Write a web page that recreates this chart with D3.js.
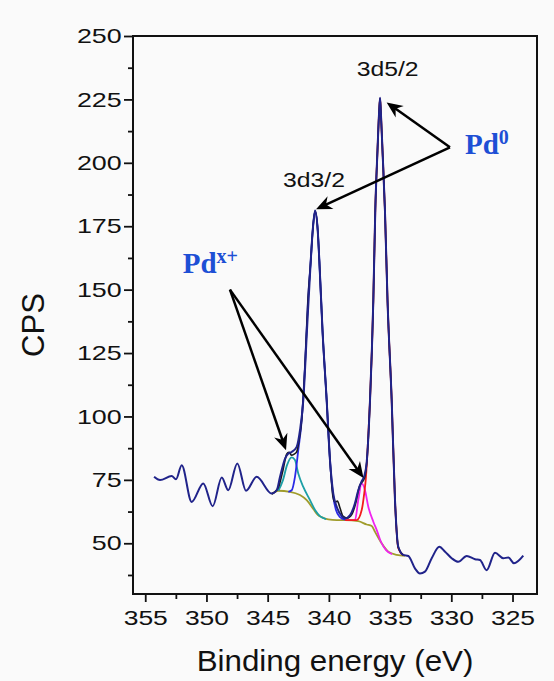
<!DOCTYPE html>
<html>
<head>
<meta charset="utf-8">
<script src="https://cdn.jsdelivr.net/npm/d3@7"></script>
<style>
    body { margin: 0; background: #fafafa; }
    svg { display: block; }
</style>
</head>
<body>
<div id="chart"></div>
<script>
// raw spectrum [binding energy (eV), CPS]
const rawSpectrum = [
    [354.28, 76.2], [353.79, 74.9], [352.84, 76.5], [352.49, 75.2], [352.02, 80.8],
    [351.21, 66.3], [350.26, 73.6], [349.49, 64.6], [348.75, 75.9], [348.22, 70.9],
    [347.48, 81.5], [346.77, 70.7], [345.90, 76.2], [344.67, 69.6], [344.26, 70.9],
    [343.99, 76.2], [343.58, 83.4], [343.31, 85.4], [343.04, 86.0], [342.63, 88.0],
    [342.36, 94.6], [342.09, 106.4], [341.79, 133.9], [341.48, 161.5], [341.32, 173.3],
    [341.13, 181.2], [340.91, 173.3], [340.78, 161.5], [340.52, 133.9], [340.18, 106.4],
    [339.91, 82.8], [339.64, 69.6], [339.36, 64.4], [338.95, 60.7], [338.68, 59.8],
    [338.27, 61.1], [337.87, 65.8], [337.60, 70.9], [337.32, 74.5], [337.11, 76.5],
    [336.91, 82.0], [336.64, 106.4], [336.37, 145.7], [336.21, 181.2], [336.03, 204.8],
    [335.89, 220.6], [335.82, 225.7], [335.76, 220.6], [335.62, 204.8], [335.42, 181.2],
    [335.21, 145.7], [334.87, 106.4], [334.60, 67.0], [334.33, 48.6], [333.92, 45.4],
    [333.51, 45.0], [332.97, 40.1], [332.56, 38.1], [332.15, 38.8], [331.60, 44.1],
    [330.98, 48.6], [330.51, 46.7], [329.97, 44.1], [329.43, 42.7], [328.74, 45.0],
    [328.06, 43.7], [327.66, 43.4], [327.11, 39.4], [326.43, 46.3], [325.75, 44.1],
    [325.34, 44.4], [324.88, 42.1], [324.12, 45.1]
];

// fitted envelope
const fitEnvelope = [
    [344.67, 69.4], [344.15, 71.7], [343.75, 78.8], [343.45, 85.1], [343.26, 85.9],
    [343.04, 84.7], [342.85, 85.1], [342.63, 86.0], [342.44, 90.6], [342.22, 98.5],
    [341.95, 120.2], [341.71, 145.7], [341.48, 161.5], [341.32, 173.3], [341.13, 181.0],
    [340.91, 173.3], [340.78, 161.5], [340.52, 133.9], [340.18, 106.4], [339.91, 82.8],
    [339.66, 68.2], [339.50, 66.2], [339.30, 66.6], [339.09, 63.9], [338.85, 60.7],
    [338.52, 59.9], [338.11, 61.5], [337.79, 66.2], [337.50, 72.5], [337.29, 74.1],
    [337.09, 75.7], [336.91, 81.6], [336.64, 106.4], [336.37, 145.7], [336.21, 181.2],
    [336.03, 204.8], [335.89, 220.6], [335.82, 225.3], [335.76, 220.6], [335.62, 204.8],
    [335.42, 181.2], [335.21, 145.7], [334.87, 106.4], [334.60, 67.0], [334.33, 48.3],
    [333.94, 45.3]
];

// Shirley background
const background = [
    [344.67, 69.4], [344.13, 70.7], [343.18, 70.3], [342.36, 69.0], [341.81, 67.0],
    [341.27, 63.5], [340.89, 61.1], [340.59, 60.3], [340.05, 59.4], [339.36, 59.1],
    [338.68, 59.1], [337.60, 58.7], [336.91, 57.4], [336.50, 56.8], [336.23, 54.5],
    [335.69, 50.0], [335.15, 46.7], [334.46, 45.4], [333.78, 45.0]
];

// Pd x+ 3d3/2 component
const pdxD32 = [
    [344.13, 70.7], [343.75, 74.9], [343.42, 80.8], [343.04, 83.9], [342.77, 82.8],
    [342.50, 77.5], [342.09, 72.2], [341.54, 67.0], [341.13, 63.1], [340.73, 60.7],
    [340.23, 59.5]
];

// Pd 0 3d3/2 component
const pd0D32 = [
    [343.31, 70.3], [343.04, 70.9], [342.77, 76.2], [342.50, 86.7], [342.22, 98.5],
    [341.95, 120.2], [341.71, 145.7], [341.48, 161.5], [341.32, 173.3], [341.13, 180.8],
    [340.91, 173.3], [340.78, 161.5], [340.52, 133.9], [340.18, 106.4], [339.91, 82.8],
    [339.66, 69.0], [339.42, 63.1], [339.09, 60.3], [338.68, 59.3]
];

// Pd 0 3d5/2 component
const pd0D52 = [
    [338.68, 59.1], [337.73, 59.1], [337.32, 63.1], [337.11, 69.8], [336.97, 76.2],
    [336.80, 90.6], [336.64, 106.4], [336.37, 145.7], [336.21, 181.2], [336.03, 204.8],
    [335.89, 220.6], [335.82, 225.3], [335.76, 220.6], [335.62, 204.8], [335.42, 181.2],
    [335.21, 145.7], [334.87, 106.4], [334.60, 67.0], [334.33, 48.1], [333.94, 45.4]
];

// Pd x+ 3d5/2 component
const pdxD52 = [
    [338.68, 59.1], [337.87, 59.1], [337.60, 67.0], [337.32, 73.6], [337.05, 70.9],
    [336.78, 64.4], [336.37, 58.5], [336.09, 55.2], [335.74, 50.5], [335.33, 47.3],
    [334.84, 45.7]
];

const xMajor = [355, 350, 345, 340, 335, 330, 325];
const xMinor = [352.5, 347.5, 342.5, 337.5, 332.5, 327.5];
const yMajor = [50, 75, 100, 125, 150, 175, 200, 225, 250];
const yMinor = [37.5, 62.5, 87.5, 112.5, 137.5, 162.5, 187.5, 212.5, 237.5];

const peakLabels = [
    { text: "3d5/2", e: 335.20, i: 234.3, anchor: "middle" },
    { text: "3d3/2", e: 343.75, i: 190.6, anchor: "start" }
];
const stateLabels = [
    { base: "Pd", sup: "0", e: 328.88, i: 203.6 },
    { base: "Pd", sup: "x+", e: 351.94, i: 156.4 }
];
const arrows = [
    { from: [330.11, 206.1], to: [335.28, 223.8] },
    { from: [330.11, 206.1], to: [341.05, 181.7] },
    { from: [348.08, 150.0], to: [343.50, 86.7] },
    { from: [348.08, 150.0], to: [337.17, 75.7] }
];

const width = 554;
const height = 681;
const plot = { left: 133, right: 537, top: 36, bottom: 594 };
const sans = "'Liberation Sans', Arial, sans-serif";
const serif = "'Liberation Serif', 'Times New Roman', serif";

const svg = d3.select("#chart").append("svg")
    .attr("width", width)
    .attr("height", height);

svg.append("rect").attr("width", width).attr("height", height).attr("fill", "#fafafa");

const x = d3.scaleLinear().domain([356, 323]).range([plot.left, plot.right]);
const y = d3.scaleLinear().domain([30, 250]).range([plot.bottom, plot.top]);

// axes
function styleAxis(g) {
    g.select(".domain").remove();
    g.selectAll(".tick line").attr("stroke", "#111").attr("stroke-width", 1.8);
}

svg.append("g")
    .attr("transform", `translate(0,${plot.bottom})`)
    .call(d3.axisBottom(x).tickValues(xMinor).tickSize(5).tickFormat(""))
    .call(styleAxis);

const xAxis = svg.append("g")
    .attr("transform", `translate(0,${plot.bottom})`)
    .call(d3.axisBottom(x).tickValues(xMajor).tickSize(8).tickFormat(d3.format("d")))
    .call(styleAxis);
xAxis.selectAll(".tick text")
    .attr("y", 31).attr("dy", null)
    .attr("font-family", sans).attr("font-size", 21).attr("fill", "#111")
    .attr("transform", "scale(1.26,1)");

svg.append("g")
    .attr("transform", `translate(${plot.left},0)`)
    .call(d3.axisLeft(y).tickValues(yMinor).tickSize(5).tickFormat(""))
    .call(styleAxis);

const yAxis = svg.append("g")
    .attr("transform", `translate(${plot.left},0)`)
    .call(d3.axisLeft(y).tickValues(yMajor).tickSize(9).tickFormat(d3.format("d")))
    .call(styleAxis);
yAxis.selectAll(".tick text")
    .attr("x", -11.3 / 1.28)
    .attr("font-family", sans).attr("font-size", 21).attr("fill", "#111")
    .attr("transform", "scale(1.28,1)");

svg.append("rect")
    .attr("x", plot.left).attr("y", plot.top)
    .attr("width", plot.right - plot.left).attr("height", plot.bottom - plot.top)
    .attr("fill", "none").attr("stroke", "#111").attr("stroke-width", 2);

// axis titles
svg.append("text")
    .attr("transform", `translate(${(plot.left + plot.right) / 2},671) scale(1.08,1)`)
    .attr("text-anchor", "middle")
    .attr("font-family", sans).attr("font-size", 29).attr("fill", "#111")
    .text("Binding energy (eV)");

svg.append("text")
    .attr("transform", "translate(44,325) rotate(-90)")
    .attr("text-anchor", "middle")
    .attr("font-family", sans).attr("font-size", 31).attr("fill", "#111")
    .text("CPS");

// spectrum lines
const line = d3.line()
    .x((d) => x(d[0]))
    .y((d) => y(d[1]))
    .curve(d3.curveMonotoneX);

const series = [
    { data: background, color: "#a09c2c", w: 1.8 },
    { data: pdxD32, color: "#1c9fa6", w: 1.8 },
    { data: pdxD52, color: "#f023ee", w: 1.8 },
    { data: pd0D52, color: "#f21c1c", w: 1.8 },
    { data: pd0D32, color: "#2a2ae6", w: 1.8 },
    { data: fitEnvelope, color: "#1a1a1a", w: 1.6 },
    { data: rawSpectrum, color: "#20238a", w: 2 }
];

svg.append("g").attr("class", "lines")
    .selectAll("path")
    .data(series)
    .join("path")
    .attr("d", (d) => line(d.data))
    .attr("fill", "none")
    .attr("stroke", (d) => d.color)
    .attr("stroke-width", (d) => d.w)
    .attr("stroke-linejoin", "round");

// arrows
svg.append("defs").append("marker")
    .attr("id", "head")
    .attr("markerUnits", "userSpaceOnUse")
    .attr("viewBox", "-20 -10 30 20")
    .attr("markerWidth", 30).attr("markerHeight", 20)
    .attr("refX", -5).attr("refY", 0)
    .attr("orient", "auto")
    .append("path")
    .attr("d", "M0,0 L-16,-7 L-11,0 L-16,7 Z")
    .attr("fill", "#000");

svg.append("g").attr("class", "arrows")
    .selectAll("line")
    .data(arrows)
    .join("line")
    .each(function (d) {
        const x1 = x(d.from[0]), y1 = y(d.from[1]);
        const x2 = x(d.to[0]), y2 = y(d.to[1]);
        const len = Math.hypot(x2 - x1, y2 - y1);
        const k = (len - 5) / len;
        d3.select(this)
            .attr("x1", x1).attr("y1", y1)
            .attr("x2", x1 + (x2 - x1) * k).attr("y2", y1 + (y2 - y1) * k);
    })
    .attr("stroke", "#000")
    .attr("stroke-width", 2.5)
    .attr("marker-end", "url(#head)");

// labels
svg.append("g").selectAll("text")
    .data(peakLabels)
    .join("text")
    .attr("transform", (d) => `translate(${x(d.e)},${y(d.i)}) scale(1.18,1)`)
    .attr("text-anchor", (d) => d.anchor)
    .attr("font-family", sans).attr("font-size", 21).attr("fill", "#111")
    .text((d) => d.text);

const states = svg.append("g").selectAll("text")
    .data(stateLabels)
    .join("text")
    .attr("x", (d) => x(d.e))
    .attr("y", (d) => y(d.i))
    .attr("font-family", serif).attr("font-weight", "bold")
    .attr("fill", "#1d4fd5");
states.append("tspan").attr("font-size", 29).text((d) => d.base);
states.append("tspan").attr("font-size", 20).attr("dy", -10).text((d) => d.sup);
</script>
</body>
</html>
